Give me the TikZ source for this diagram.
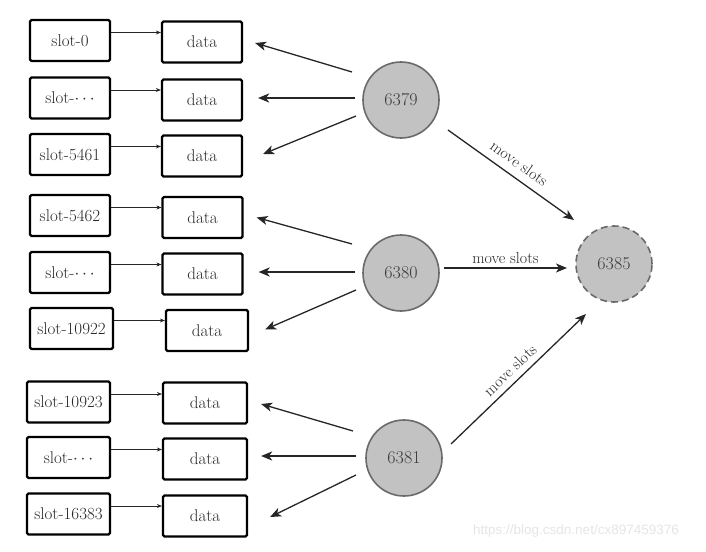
\documentclass[tikz,border=0pt]{standalone}
\usepackage{fontspec}
\newfontfamily\wmfont{Liberation Sans}
\usetikzlibrary{arrows.meta}
\definecolor{circfill}{HTML}{C2C2C2}
\definecolor{circline}{HTML}{6A6A6A}
\definecolor{txt}{HTML}{262626}
\tikzset{
  box/.style={draw=black, line width=2.2pt, rounded corners=1.5pt, inner sep=0pt,
    minimum height=41pt, text=txt, font=\fontsize{17}{20}\selectfont},
  slotbox/.style={box, minimum width=80pt},
  databox/.style={box, minimum width=80pt},
  srv/.style={circle, draw=circline, fill=circfill, line width=1.6pt, minimum size=76pt,
    inner sep=0pt, text=txt!90, font=\fontsize{18}{20}\selectfont},
  small/.style={-{Stealth[length=5pt,width=4pt]}, line width=0.9pt, black!85},
  ptr/.style={-{Stealth[length=11pt,width=9pt,inset=3pt]}, line width=1.3pt, black!85},
  ptrthick/.style={ptr, line width=2.6pt},
  mv/.style={-{Stealth[length=11pt,width=9pt,inset=3pt]}, line width=1.3pt, black!85},
  mvlabel/.style={text=txt, font=\fontsize{16}{18}\selectfont, inner sep=1pt}
}
\begin{document}
\begin{tikzpicture}[x=1pt,y=-1pt]
\useasboundingbox (0,0) rectangle (706,551);
% slot boxes
\node[slotbox] (s1) at (70,40.5) {slot-0};
\node[slotbox] (s2) at (70,98) {slot-$\cdots$};
\node[slotbox] (s3) at (70,154.5) {slot-5461};
\node[slotbox] (s4) at (70,215.5) {slot-5462};
\node[slotbox] (s5) at (70,272.5) {slot-$\cdots$};
\node[slotbox, minimum width=83pt] (s6) at (71.5,328.5) {slot-10922};
\node[slotbox, minimum width=83pt] (s7) at (68.5,402) {slot-10923};
\node[slotbox, minimum width=83pt] (s8) at (68.5,457.5) {slot-$\cdots$};
\node[slotbox, minimum width=83pt] (s9) at (68.5,514) {slot-16383};
% data boxes
\node[databox] (d1) at (202,42) {data};
\node[databox] (d2) at (202,100) {data};
\node[databox] (d3) at (202,156) {data};
\node[databox] (d4) at (202.5,217.5) {data};
\node[databox] (d5) at (202.5,274) {data};
\node[databox, minimum width=82pt] (d6) at (207,330.5) {data};
\node[databox, minimum width=84pt] (d7) at (205,403) {data};
\node[databox, minimum width=84pt] (d8) at (205,459) {data};
\node[databox, minimum width=84pt] (d9) at (205,516) {data};
% slot -> data
\foreach \i in {1,...,9}{
  \draw[small] ([yshift=8pt]s\i.east) -- ([yshift=8pt]s\i.east -| d\i.west);
}
% servers
\node[srv] (c1) at (401,100) {6379};
\node[srv] (c2) at (401,273) {6380};
\node[srv] (c3) at (404,458) {6381};
\node[srv, dashed, dash pattern=on 7pt off 4pt] (c4) at (614,264) {6385};
% start points of pointers
\coordinate (a1) at (352,72);
\coordinate (a2) at (355,98);
\coordinate (a3) at (356,116);
\coordinate (b1) at (352,244);
\coordinate (b2) at (355,272);
\coordinate (b3) at (356,290);
\coordinate (e1) at (353,431);
\coordinate (e2) at (356,456);
\coordinate (e3) at (356,475);
\draw[ptr] (a1) -- ([xshift=12pt,yshift=-1pt]d1.east);
\draw[ptrthick] (a2) -- ([xshift=15pt]d2.east |- a2);
\draw[ptr] (a3) -- ([xshift=20pt,yshift=2pt]d3.east);
\draw[ptr] (b1) -- ([xshift=13pt,yshift=0pt]d4.east);
\draw[ptrthick] (b2) -- ([xshift=15pt]d5.east |- b2);
\draw[ptr] (b3) -- ([xshift=16pt,yshift=1pt]d6.east);
\draw[ptr] (e1) -- ([xshift=13pt,yshift=-1pt]d7.east);
\draw[ptrthick] (e2) -- ([xshift=13pt]d8.east |- e2);
\draw[ptr] (e3) -- ([xshift=22pt,yshift=-1pt]d9.east);
% move slots
\coordinate (m1s) at (448,130);
\coordinate (m1e) at (574,220);
\coordinate (m2s) at (444,268);
\coordinate (m2e) at (567,268);
\coordinate (m3s) at (451,444);
\coordinate (m3e) at (586,314);
\draw[mv] (m1s) -- node[mvlabel, sloped, above=7pt] {move slots} (m1e);
\draw[mv] (m2s) -- node[mvlabel, above=3pt] {move slots} (m2e);
\draw[mv] (m3s) -- node[mvlabel, sloped, above=5pt] {move slots} (m3e);
% watermark
\node[text=black!10, font=\wmfont\fontsize{13.5}{15}\selectfont, inner sep=0pt] (wm) at (576,531) {https://blog.csdn.net/cx897459376};
\end{tikzpicture}
\end{document}
